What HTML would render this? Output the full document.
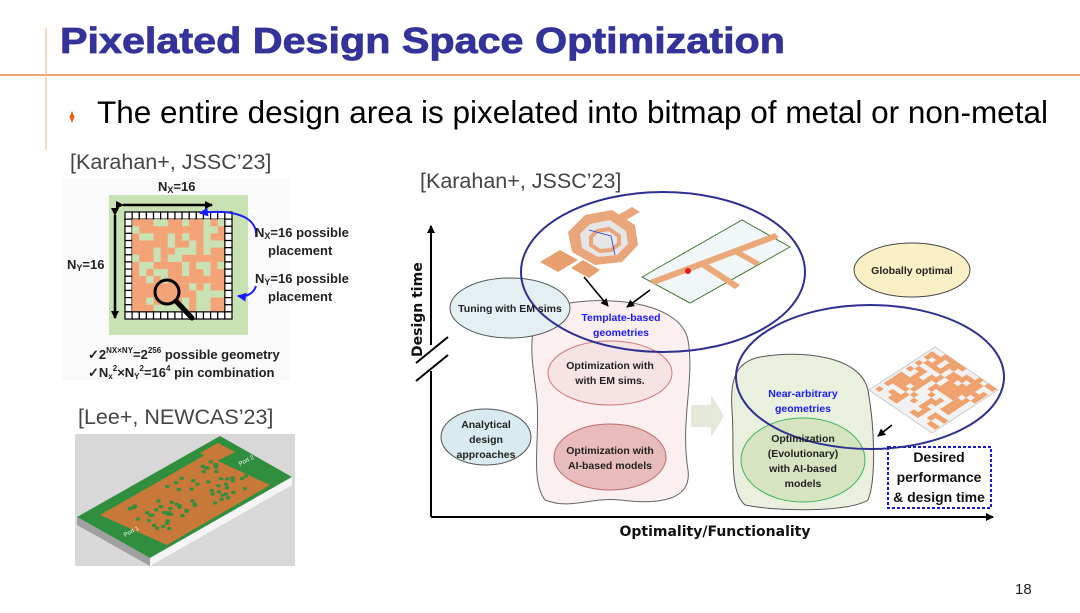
<!DOCTYPE html>
<html><head><meta charset="utf-8"><style>
html,body{margin:0;padding:0;background:#fff;}
body{width:1080px;height:608px;overflow:hidden;position:relative;font-family:"Liberation Sans",sans-serif;}
svg text{font-family:"Liberation Sans",sans-serif;}
.c{font-family:"DejaVu Sans","Liberation Sans",sans-serif;font-weight:bold;}
</style></head><body>
<svg width="1080" height="608" viewBox="0 0 1080 608" xmlns="http://www.w3.org/2000/svg">
<defs>
<marker id="ah" markerWidth="8" markerHeight="8" refX="7" refY="4" orient="auto" markerUnits="userSpaceOnUse"><path d="M0,0 L8,4 L0,8 z" fill="#000"/></marker>
<marker id="bh" markerWidth="9" markerHeight="9" refX="8" refY="4.5" orient="auto" markerUnits="userSpaceOnUse"><path d="M0,0 L9,4.5 L0,9 z" fill="#1a1aff"/></marker>
</defs>
<line x1="0" y1="75" x2="1080" y2="75" stroke="#e06a1e" stroke-width="1.3"/>
<line x1="46" y1="28" x2="46" y2="150" stroke="#f2b48a" stroke-width="1"/>
<text x="60" y="53" font-size="36" font-weight="bold" fill="#333399" stroke="#333399" stroke-width="0.8" textLength="725" lengthAdjust="spacingAndGlyphs">Pixelated Design Space Optimization</text>
<path d="M72,111 L74.5,117 L72,123 L69.5,117 z" fill="#f06010"/>
<text x="97" y="123" font-size="31.5" fill="#000" textLength="951" lengthAdjust="spacingAndGlyphs">The entire design area is pixelated into bitmap of metal or non-metal</text>
<text x="70" y="169" font-size="21.5" fill="#444">[Karahan+, JSSC’23]</text>
<text x="78" y="424" font-size="21.5" fill="#444">[Lee+, NEWCAS’23]</text>
<text x="420" y="188" font-size="21.5" fill="#444">[Karahan+, JSSC’23]</text>
<text x="1015" y="594" font-size="15" fill="#222">18</text>

<rect x="62" y="178" width="228" height="202" fill="#fafafa"/>
<rect x="109" y="195" width="139" height="140" fill="#c8e2b4"/>
<g id="grid"></g>
<line x1="123" y1="205" x2="212" y2="205" stroke="#000" stroke-width="2.5" marker-start="url(#ah)" marker-end="url(#ah)"/>
<line x1="115" y1="215" x2="115" y2="318" stroke="#000" stroke-width="2.5" marker-start="url(#ah)" marker-end="url(#ah)"/>
<circle cx="167" cy="292" r="12" fill="none" stroke="#000" stroke-width="3"/>
<line x1="176" y1="301" x2="192" y2="318" stroke="#000" stroke-width="5" stroke-linecap="round"/>
<path d="M256,237 C258,220 240,208 200,213" fill="none" stroke="#1a1aff" stroke-width="2" marker-end="url(#bh)"/>
<path d="M256,286 C253,295 245,297 238,296" fill="none" stroke="#1a1aff" stroke-width="2" marker-end="url(#bh)"/>
<g class="c" font-size="13" fill="#222">
<text x="158" y="191">N<tspan font-size="9" dy="2">X</tspan><tspan dy="-2">=16</tspan></text>
<text x="67" y="269">N<tspan font-size="9" dy="2">Y</tspan><tspan dy="-2">=16</tspan></text>
<text x="255" y="237">N<tspan font-size="9" dy="2">X</tspan><tspan dy="-2">=16 possible</tspan></text>
<text x="268" y="255">placement</text>
<text x="255" y="283">N<tspan font-size="9" dy="2">Y</tspan><tspan dy="-2">=16 possible</tspan></text>
<text x="268" y="301">placement</text>
<text x="88" y="359">✓2<tspan font-size="8" dy="-6">NX×NY</tspan><tspan dy="6">=2</tspan><tspan font-size="8" dy="-6">256</tspan><tspan dy="6"> possible geometry</tspan></text>
<text x="88" y="377">✓N<tspan font-size="8" dy="2">x</tspan><tspan font-size="8" dy="-8">2</tspan><tspan dy="6">×N</tspan><tspan font-size="8" dy="2">Y</tspan><tspan font-size="8" dy="-8">2</tspan><tspan dy="6">=16</tspan><tspan font-size="8" dy="-6">4</tspan><tspan dy="6"> pin combination</tspan></text>
</g>

<rect x="75" y="434" width="220" height="132" fill="#d8d8d8"/>
<polygon points="77,517 220,436 292,477 150,558" fill="#2f8f3f"/>
<polygon points="77,517 150,558 150,566 77,525" fill="#a0a0a0"/>
<polygon points="150,558 292,477 292,485 150,566" fill="#f5f5f5"/>
<polygon points="100,515 205,455 270,485 167,545" fill="#c87838"/>
<polygon points="200,453 218,443 235,452 215,462" fill="#c87838"/>
<g id="dots"></g>
<text x="125" y="537" font-size="6" fill="#fff" transform="rotate(-28 125 537)">Port 1</text>
<text x="240" y="466" font-size="6" fill="#fff" transform="rotate(-28 240 466)">Port 2</text>

<line x1="431" y1="517" x2="431" y2="226" stroke="#000" stroke-width="2" marker-end="url(#ah)"/>
<line x1="431" y1="517" x2="993" y2="517" stroke="#000" stroke-width="2" marker-end="url(#ah)"/>
<rect x="423" y="345" width="16" height="26" fill="#fff"/>
<line x1="416" y1="363" x2="448" y2="337" stroke="#000" stroke-width="2"/>
<line x1="416" y1="381" x2="448" y2="355" stroke="#000" stroke-width="2"/>
<text class="c" x="0" y="0" font-size="14" fill="#111" transform="translate(422,357) rotate(-90)">Design time</text>
<text class="c" x="715" y="536" font-size="14" fill="#111" text-anchor="middle">Optimality/Functionality</text>

<path d="M560,305 C600,295 680,300 688,340 C695,380 680,420 688,470 C692,500 660,505 620,500 C590,497 570,510 545,500 C530,480 540,440 537,400 C533,360 520,315 560,305 z" fill="#fbf0ef" stroke="#666" stroke-width="1"/>
<ellipse cx="510" cy="308" rx="60" ry="30" fill="#e3eff3" stroke="#555" stroke-width="1"/>
<ellipse cx="610" cy="373" rx="62" ry="32" fill="#f6e3e3" stroke="#d07a7a" stroke-width="1"/>
<ellipse cx="610" cy="457" rx="56" ry="33" fill="#e8bcbc" stroke="#c06a6a" stroke-width="1"/>
<ellipse cx="486" cy="437" rx="45" ry="28" fill="#d9ebf1" stroke="#555" stroke-width="1"/>
<polygon points="691,405 711,405 711,395 724,416 711,437 711,427 691,427" fill="#e4e9da"/>
<path d="M760,357 C800,350 860,355 868,390 C875,430 876,480 868,500 C850,512 780,512 745,505 C728,490 735,450 732,410 C730,380 735,362 760,357 z" fill="#e9f0de" stroke="#555" stroke-width="1"/>
<ellipse cx="803" cy="460" rx="62" ry="42" fill="#d7e4c2" stroke="#3cb55a" stroke-width="1"/>
<ellipse cx="912" cy="270" rx="58" ry="27" fill="#fbefc6" stroke="#444" stroke-width="1"/>
<rect x="888" y="447" width="103" height="61" fill="none" stroke="#1a1ad0" stroke-width="2" stroke-dasharray="3,2"/>

<polygon points="583,260 571,268 589,278 600,270" fill="#e8a070"/>
<polygon points="560,250 540,262 558,272 578,260" fill="#e8a070"/>
<polygon points="585,215 612,210 635,225 638,245 622,262 595,265 572,252 568,232" fill="#e9a67a"/>
<polygon points="590,224 610,220 626,231 628,244 617,255 598,257 582,248 580,234" fill="#e6e6e6"/>
<polygon points="597,231 609,229 619,236 619,244 611,250 600,251 591,245 591,237" fill="none" stroke="#e9a67a" stroke-width="4"/>
<polygon points="618,215 632,207 640,212 626,220" fill="#e9a67a"/>
<line x1="589" y1="230" x2="611" y2="236" stroke="#2233dd" stroke-width="0.8"/>
<line x1="611" y1="236" x2="615" y2="255" stroke="#2233dd" stroke-width="0.8"/>
<polygon points="642,277 742,220 790,247 690,303" fill="#f1f6f8" stroke="#4a7a3a" stroke-width="1"/>
<polygon points="650,280 775,233 779,238 654,285" fill="#eba878"/>
<polygon points="705,262 740,285 735,289 700,266" fill="#eba878"/>
<polygon points="735,248 760,262 756,266 731,252" fill="#eba878"/>
<circle cx="688" cy="271" r="3" fill="#e02020"/>

<ellipse cx="663" cy="272" rx="142" ry="80" fill="none" stroke="#2e3192" stroke-width="2"/>
<polygon points="869,390 935,347 998,390 932,433" fill="#f2f2f2" stroke="#ccc" stroke-width="1"/>
<g id="pix"></g>
<ellipse cx="870" cy="377" rx="134" ry="72" fill="none" stroke="#2e3192" stroke-width="2"/>

<line x1="584" y1="277" x2="608" y2="306" stroke="#000" stroke-width="1.6" marker-end="url(#ah)"/>
<line x1="650" y1="290" x2="627" y2="307" stroke="#000" stroke-width="1.6" marker-end="url(#ah)"/>
<line x1="892" y1="425" x2="878" y2="436" stroke="#000" stroke-width="1.6" marker-end="url(#ah)"/>

<g class="c" font-size="10.5" text-anchor="middle" fill="#222">
<text x="510" y="312">Tuning with EM sims</text>
<text x="621" y="321" fill="#1a1aff">Template-based</text>
<text x="621" y="336" fill="#1a1aff">geometries</text>
<text x="610" y="369">Optimization with</text>
<text x="610" y="384">with EM sims.</text>
<text x="610" y="454">Optimization with</text>
<text x="610" y="469">AI-based models</text>
<text x="486" y="428">Analytical</text>
<text x="486" y="443">design</text>
<text x="486" y="458">approaches</text>
<text x="803" y="397" fill="#1a1aff">Near-arbitrary</text>
<text x="803" y="412" fill="#1a1aff">geometries</text>
<text x="803" y="442">Optimization</text>
<text x="803" y="457">(Evolutionary)</text>
<text x="803" y="472">with AI-based</text>
<text x="803" y="487">models</text>
<text x="912" y="274">Globally optimal</text>
</g>
<g class="c" font-size="14" text-anchor="middle" fill="#111">
<text x="939" y="462">Desired</text>
<text x="939" y="482">performance</text>
<text x="939" y="502">&amp; design time</text>
</g>
</svg>
<script>
(function(){
var seed=3;function r(){seed=(seed*9301+49297)%233280;return seed/233280;}
var g=document.getElementById("grid"),h="";
var x0=125,y0=212,n=15,w=107/n;
for(var i=0;i<n;i++)for(var j=0;j<n;j++){var edge=(i==0||j==0||i==n-1||j==n-1);
var f=edge?"#fff":(r()<0.3?"#c8e2b4":"#f4a276");
h+='<rect x="'+(x0+i*w)+'" y="'+(y0+j*w)+'" width="'+w+'" height="'+w+'" fill="'+f+'" stroke="'+(edge?"#000":"none")+'" stroke-width="1.2"/>';}
g.innerHTML=h;
var d=document.getElementById("dots");h="";
for(var k=0;k<70;k++){var a=0.2+r()*0.65,b=0.2+r()*0.6;
var px=77+a*143+b*73,py=517-a*81+b*41;
h+='<rect x="'+px+'" y="'+py+'" width="4" height="3" fill="#2f8f3f"/>';}
d.innerHTML=h;
var p=document.getElementById("pix");h="";
for(var i=0;i<14;i++)for(var j=0;j<14;j++){if(r()<0.45)continue;
var cx=875+i*4.4+j*4.3, cy=389-i*2.9+j*2.9;
h+='<polygon points="'+cx+','+cy+' '+(cx+4.4)+','+(cy-2.9)+' '+(cx+8.7)+','+cy+' '+(cx+4.3)+','+(cy+2.9)+'" fill="#f0a06a"/>';}
p.innerHTML=h;
})();
</script>
</body></html>
